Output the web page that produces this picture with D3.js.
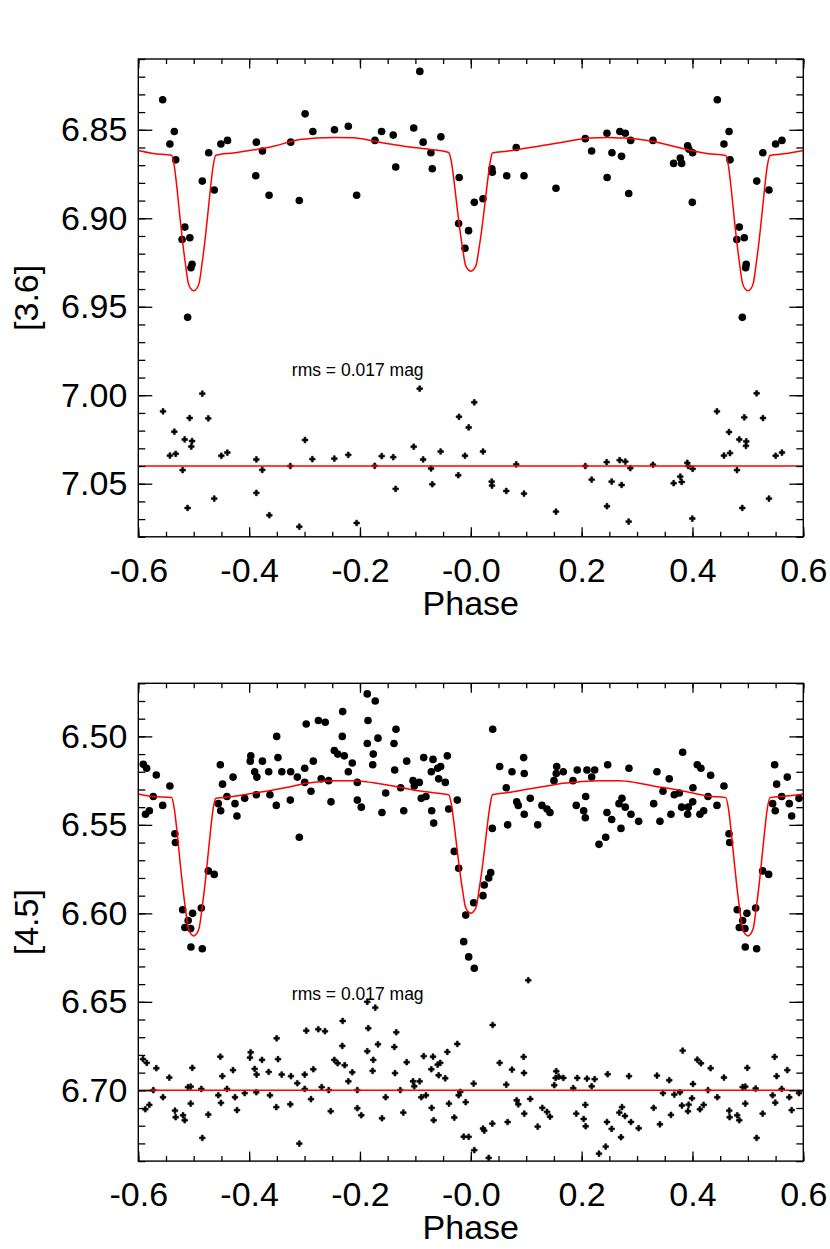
<!DOCTYPE html>
<html>
<head>
<meta charset="utf-8">
<script src="https://cdn.jsdelivr.net/npm/d3@7"></script>
<style>
  body { margin: 0; background: #fff; }
  svg text { font-family: "Liberation Sans", Arial, Helvetica, sans-serif; fill: #000; }
</style>
</head>
<body>
<div id="chart"></div>
<script>
// ---- data ----
const phaseTicks = [-0.6, -0.4, -0.2, 0.0, 0.2, 0.4, 0.6];
const phaseTickLabels = ["-0.6", "-0.4", "-0.2", "-0.0", "0.2", "0.4", "0.6"];
const phaseMinor = d3.range(-0.6, 0.6001, 0.05);

const magTicksTop = [6.85, 6.90, 6.95, 7.00, 7.05];
const magTicksBot = [6.50, 6.55, 6.60, 6.65, 6.70];

const domainTop = [6.81, 7.08];
const domainBot = [6.47, 6.74];

const bandLabels = ["[3.6]", "[4.5]"];
const rmsLabels = ["rms = 0.017 mag", "rms = 0.017 mag"];
const rmsPos = [[-0.323, 6.989], [-0.323, 6.649]];
const residualLevel = [7.04, 6.70];

// [3.6] observed magnitudes (phase, mag)
const obsTop = [
  [-0.556,6.833],[-0.543,6.858],[-0.535,6.851],[-0.5325,6.867],[-0.516,6.905],[-0.521,6.912],
  [-0.507,6.911],[-0.503,6.926],[-0.505,6.928],[-0.511,6.956],[-0.4845,6.879],[-0.473,6.863],
  [-0.463,6.884],[-0.451,6.858],[-0.439,6.856],[-0.387,6.857],[-0.388,6.876],[-0.376,6.862],
  [-0.364,6.887],[-0.325,6.857],[-0.3095,6.890],[-0.299,6.841],[-0.285,6.851],[-0.246,6.850],
  [-0.221,6.848],[-0.206,6.887],[-0.173,6.856],[-0.161,6.851],[-0.140,6.853],[-0.1355,6.871],
  [-0.103,6.849],[-0.092,6.817],[-0.086,6.857],[-0.072,6.863],[-0.0695,6.872],[-0.054,6.854],
  [-0.021,6.877],[-0.022,6.903],[-0.004,6.907],[-0.0105,6.917],[0.0063,6.891],[0.022,6.889],
  [0.038,6.872],[0.0388,6.874],[0.0648,6.876],[0.082,6.860],[0.096,6.876],[0.1537,6.883],
  [0.2066,6.855],[0.218,6.862],[0.2457,6.852],[0.246,6.877],[0.2547,6.863],[0.269,6.851],
  [0.2788,6.852],[0.272,6.865],[0.2885,6.856],[0.285,6.886],[0.3287,6.856],[0.366,6.869],
  [0.378,6.866],[0.3805,6.869],[0.3913,6.859],[0.3937,6.861],[0.4003,6.863],[0.3997,6.891],
  [0.4448,6.833],[0.4568,6.858],[0.466,6.851],[0.4677,6.867],[0.4845,6.905],[0.480,6.912],
  [0.4935,6.911],[0.497,6.926],[0.496,6.928],[0.490,6.956],[0.516,6.879],[0.527,6.863],
  [0.538,6.884],[0.550,6.858],[0.5615,6.856]
];

// [3.6] residuals, offset to 7.04
const resTop = [
  [-0.5554,7.0091],[-0.543,7.0341],[-0.535,7.0206],[-0.5325,7.0331],[-0.520,7.0423],[-0.5163,7.025],
  [-0.511,7.0637],[-0.5073,7.0129],[-0.503,7.0259],[-0.5044,7.029],[-0.4845,6.9991],[-0.4737,7.0131],
  [-0.463,7.0584],[-0.4502,7.0342],[-0.4394,7.0324],[-0.387,7.0363],[-0.387,7.0552],[-0.3763,7.0422],
  [-0.3636,7.0678],[-0.3257,7.040],[-0.3095,7.0743],[-0.2992,7.0253],[-0.286,7.0361],[-0.2463,7.0358],
  [-0.2211,7.0337],[-0.206,7.0722],[-0.1734,7.0399],[-0.1608,7.0344],[-0.140,7.035],[-0.1356,7.0529],
  [-0.103,7.0291],[-0.0922,6.9963],[-0.086,7.0363],[-0.0717,7.0414],[-0.0695,7.0503],[-0.0544,7.0318],
  [-0.0213,7.0122],[-0.0226,7.0452],[-0.0038,7.0182],[-0.0105,7.0342],[0.0063,7.004],[0.022,7.0318],
  [0.0377,7.0488],[0.0382,7.0511],[0.064,7.0541],[0.082,7.0391],[0.096,7.0556],[0.1537,7.0658],
  [0.2066,7.040],[0.2181,7.0477],[0.2452,7.0378],[0.2457,7.0627],[0.2542,7.0488],[0.2686,7.0367],
  [0.2788,7.0375],[0.2722,7.0507],[0.2878,7.0412],[0.2849,7.0714],[0.3287,7.0393],[0.3661,7.0497],
  [0.378,7.046],[0.3805,7.049],[0.3906,7.0382],[0.3924,7.040],[0.4003,7.0416],[0.3997,7.0697],
  [0.4442,7.0091],[0.4568,7.0341],[0.4659,7.0208],[0.4677,7.0327],[0.4803,7.0423],[0.4845,7.025],
  [0.4899,7.0637],[0.4935,7.0125],[0.4971,7.0261],[0.4965,7.0286],[0.5158,6.9989],[0.5272,7.0129],
  [0.538,7.0584],[0.5501,7.0342],[0.5615,7.0324]
];

// [3.6] model light curve
const modelTop = [
  [-0.600,6.8617],[-0.573,6.8634],[-0.540,6.8644],
  [-0.535,6.8705],[-0.530,6.8836],[-0.525,6.8989],[-0.520,6.9134],[-0.515,6.9257],[-0.510,6.9364],
  [-0.505,6.9399],[-0.500,6.9410],[-0.495,6.9399],[-0.490,6.9364],[-0.485,6.9257],[-0.480,6.9134],
  [-0.475,6.8989],[-0.470,6.8836],[-0.465,6.8705],[-0.460,6.8644],
  [-0.429,6.8631],[-0.386,6.8611],[-0.356,6.8593],[-0.326,6.8568],[-0.308,6.8555],[-0.248,6.8543],
  [-0.212,6.8545],[-0.176,6.8563],[-0.152,6.8578],[-0.110,6.8597],[-0.074,6.8611],[-0.040,6.8628],
  [-0.035,6.8682],[-0.030,6.8796],[-0.025,6.8930],[-0.020,6.9058],[-0.015,6.9166],[-0.010,6.9260],
  [-0.005,6.9290],[0.000,6.9300],[0.005,6.9290],[0.010,6.9260],[0.015,6.9166],[0.020,6.9058],
  [0.025,6.8930],[0.030,6.8796],[0.035,6.8682],[0.039,6.8631],
  [0.065,6.8621],[0.095,6.8606],[0.125,6.8591],[0.155,6.8576],[0.185,6.8559],[0.216,6.8547],
  [0.246,6.8543],[0.276,6.8547],[0.306,6.8555],[0.336,6.8570],[0.366,6.8593],[0.396,6.8615],
  [0.426,6.8634],[0.460,6.8645],
  [0.465,6.8705],[0.470,6.8836],[0.475,6.8989],[0.480,6.9134],[0.485,6.9257],[0.490,6.9364],
  [0.495,6.9399],[0.500,6.9410],[0.505,6.9399],[0.510,6.9364],[0.515,6.9257],[0.520,6.9134],
  [0.525,6.8989],[0.530,6.8836],[0.535,6.8705],[0.540,6.8645],[0.570,6.8634],[0.600,6.8617]
];

// [4.5] observed magnitudes
const obsBot = [
  [-0.591,6.5158],[-0.585,6.518],[-0.587,6.544],[-0.580,6.542],[-0.573,6.534],[-0.5675,6.5218],
  [-0.556,6.539],[-0.543,6.528],[-0.534,6.555],[-0.533,6.560],[-0.520,6.598],[-0.516,6.608],
  [-0.510,6.604],[-0.5055,6.6086],[-0.502,6.600],[-0.505,6.619],[-0.4845,6.620],[-0.4863,6.597],
  [-0.4737,6.576],[-0.463,6.578],[-0.4556,6.538],[-0.4513,6.542],[-0.448,6.527],[-0.452,6.516],
  [-0.440,6.534],[-0.429,6.523],[-0.4255,6.538],[-0.422,6.545],[-0.408,6.535],[-0.398,6.514],
  [-0.397,6.511],[-0.390,6.520],[-0.386,6.523],[-0.387,6.533],[-0.376,6.514],[-0.3647,6.520],
  [-0.3624,6.533],[-0.3503,6.500],[-0.348,6.512],[-0.351,6.539],[-0.341,6.520],[-0.325,6.520],
  [-0.3257,6.536],[-0.313,6.523],[-0.3095,6.557],[-0.2997,6.518],[-0.2997,6.526],[-0.297,6.493],
  [-0.2884,6.531],[-0.2842,6.514],[-0.275,6.491],[-0.2626,6.492],[-0.270,6.524],[-0.2564,6.525],
  [-0.2523,6.537],[-0.2463,6.508],[-0.2402,6.510],[-0.2312,6.486],[-0.2319,6.500],[-0.2283,6.511],
  [-0.221,6.520],[-0.2139,6.515],[-0.2048,6.526],[-0.2048,6.536],[-0.1976,6.540],[-0.1868,6.476],
  [-0.1855,6.491],[-0.1868,6.504],[-0.1724,6.480],[-0.176,6.510],[-0.177,6.516],[-0.1675,6.501],
  [-0.1603,6.543],[-0.1536,6.532],[-0.1386,6.504],[-0.135,6.496],[-0.1374,6.519],[-0.1265,6.529],
  [-0.121,6.542],[-0.1157,6.514],[-0.1043,6.525],[-0.102,6.528],[-0.093,6.526],[-0.0894,6.535],
  [-0.0809,6.534],[-0.085,6.512],[-0.0706,6.542],[-0.067,6.549],[-0.0713,6.520],[-0.0682,6.513],
  [-0.0598,6.518],[-0.0544,6.517],[-0.058,6.524],[-0.046,6.526],[-0.0424,6.511],[-0.0399,6.541],
  [-0.0298,6.565],[-0.0219,6.5745],[-0.0244,6.536],
  [-0.0092,6.601],[-0.0128,6.616],[-0.0038,6.6246],[0.0063,6.631],[0.0052,6.594],[0.022,6.590],
  [0.0243,6.584],[0.0323,6.580],[0.0359,6.577],[0.0388,6.552],[0.0395,6.496],[0.0521,6.517],
  [0.064,6.529],[0.0665,6.550],[0.0743,6.520],[0.0828,6.537],[0.0857,6.539],[0.0954,6.512],
  [0.0965,6.521],[0.0965,6.544],[0.1073,6.535],[0.1207,6.550],[0.1284,6.539],[0.1375,6.541],
  [0.1429,6.543],[0.1501,6.525],[0.155,6.517],[0.1542,6.521],[0.1669,6.520],[0.1844,6.525],
  [0.1903,6.539],[0.1921,6.519],[0.2037,6.542],[0.2066,6.546],[0.2073,6.534],[0.2096,6.519],
  [0.2181,6.523],[0.2235,6.519],[0.2313,6.561],[0.2434,6.557],[0.2457,6.543],[0.247,6.516],
  [0.2542,6.547],[0.2674,6.538],[0.271,6.552],[0.2728,6.535],[0.2787,6.540],[0.2854,6.518],
  [0.289,6.544],[0.3029,6.548],[0.330,6.538],[0.3359,6.520],[0.3413,6.548],[0.3468,6.531],
  [0.3581,6.524],[0.3612,6.544],[0.3672,6.533],[0.3762,6.532],[0.3823,6.509],[0.3805,6.540],
  [0.3913,6.544],[0.3924,6.540],[0.4004,6.537],[0.4009,6.529],[0.4087,6.516],[0.4153,6.518],
  [0.4135,6.544],[0.4202,6.542],[0.428,6.534],[0.4328,6.522],[0.4442,6.539],[0.4568,6.528],
  [0.4659,6.555],[0.4671,6.560],[0.4808,6.598],[0.4845,6.608],[0.4906,6.604],[0.4947,6.6086],
  [0.4983,6.600],[0.4953,6.619],[0.5158,6.620],[0.514,6.597],[0.5267,6.576],[0.5375,6.578],
  [0.5447,6.538],[0.5494,6.542],[0.5519,6.527],[0.5483,6.516],[0.561,6.534],[0.5711,6.523],
  [0.5747,6.538],[0.579,6.545],[0.5922,6.535]
];

// [4.5] residuals, offset to 6.70
const resBot = [
  [-0.5915,6.6824],[-0.5848,6.6845],[-0.5874,6.7107],[-0.5801,6.7082],[-0.5729,6.6999],[-0.5675,6.6875],
  [-0.5554,6.7039],[-0.5441,6.6928],[-0.5338,6.7115],[-0.5325,6.7152],[-0.5193,6.7141],[-0.5163,6.7169],
  [-0.5103,6.6982],[-0.5054,6.6979],[-0.5054,6.7075],[-0.5026,6.6873],[-0.4863,6.6992],[-0.4845,6.7269],
  [-0.4737,6.7137],[-0.4556,6.7028],[-0.4508,6.7071],[-0.4484,6.692],[-0.452,6.681],[-0.440,6.6992],
  [-0.4291,6.6886],[-0.4255,6.7039],[-0.4219,6.7112],[-0.408,6.7016],[-0.3984,6.6815],[-0.3972,6.6785],
  [-0.390,6.6879],[-0.3864,6.6911],[-0.3871,6.7011],[-0.3768,6.6828],[-0.3647,6.6896],[-0.3624,6.7028],
  [-0.3503,6.6706],[-0.3479,6.6824],[-0.351,6.7095],[-0.3412,6.6911],[-0.3245,6.692],[-0.3257,6.7079],
  [-0.3131,6.696],[-0.3095,6.7301],[-0.2997,6.6911],[-0.2997,6.6992],[-0.2969,6.6663],[-0.2884,6.705],
  [-0.2842,6.6881],[-0.2752,6.6655],[-0.2631,6.6666],[-0.2691,6.6982],[-0.2564,6.6999],[-0.2528,6.7118],
  [-0.2463,6.6828],[-0.2402,6.6847],[-0.2312,6.6608],[-0.2319,6.6749],[-0.2276,6.6858],[-0.221,6.6949],
  [-0.2139,6.6898],[-0.2048,6.6999],[-0.2048,6.7101],[-0.1976,6.7141],[-0.1868,6.650],[-0.185,6.6649],
  [-0.1868,6.6779],[-0.1724,6.6533],[-0.176,6.6828],[-0.1771,6.689],[-0.1675,6.674],[-0.1603,6.7158],
  [-0.1536,6.7039],[-0.138,6.6755],[-0.1345,6.6672],[-0.1368,6.6903],[-0.1272,6.6999],[-0.1218,6.7126],
  [-0.1157,6.6841],[-0.1043,6.6949],[-0.102,6.6977],[-0.0923,6.6949],[-0.0894,6.7039],[-0.0809,6.7028],
  [-0.085,6.6807],[-0.0706,6.7099],[-0.067,6.7169],[-0.0713,6.6881],[-0.0682,6.681],[-0.058,6.6915],
  [-0.0598,6.6855],[-0.0551,6.6845],[-0.0461,6.6932],[-0.0424,6.6783],[-0.0394,6.7075],[-0.0298,6.7154],
  [-0.0244,6.6738],[-0.0219,6.7028],[-0.019,6.7009],
  [-0.0092,6.7067],[-0.0128,6.7262],[-0.0038,6.7263],[0.0052,6.6962],[0.0063,6.7338],[0.022,6.7216],
  [0.0243,6.7228],[0.0323,6.7382],[0.0388,6.7188],[0.0395,6.6631],[0.0521,6.6845],[0.064,6.6968],
  [0.0665,6.7179],[0.0743,6.6883],[0.0828,6.7056],[0.0857,6.7079],[0.0954,6.6811],[0.096,6.6902],
  [0.0965,6.7132],[0.1037,6.6378],[0.1073,6.7049],[0.1207,6.7205],[0.129,6.7099],[0.1375,6.7122],
  [0.1429,6.7149],[0.1506,6.6971],[0.1542,6.6892],[0.1531,6.693],[0.1586,6.6923],[0.1669,6.693],
  [0.1849,6.6988],[0.1903,6.7132],[0.1921,6.693],[0.2037,6.7162],[0.2066,6.7082],[0.2073,6.7203],
  [0.2096,6.6934],[0.2181,6.6977],[0.2235,6.6937],[0.2313,6.7358],[0.2434,6.7318],[0.2457,6.7179],
  [0.247,6.6909],[0.2542,6.7218],[0.268,6.7126],[0.271,6.7265],[0.2728,6.7095],[0.2782,6.7145],
  [0.2854,6.692],[0.289,6.7179],[0.3029,6.7214],[0.330,6.7099],[0.3359,6.6917],[0.3413,6.7192],
  [0.3468,6.7016],[0.3581,6.6943],[0.3612,6.7139],[0.3672,6.7024],[0.3775,6.7011],[0.3823,6.6776],
  [0.381,6.7086],[0.3919,6.7118],[0.3931,6.7081],[0.3991,6.7045],[0.4009,6.6964],[0.4087,6.6827],
  [0.4153,6.6847],[0.4135,6.7107],[0.4202,6.7082],[0.428,6.6999],[0.4328,6.6875],[0.4448,6.7039],
  [0.4568,6.6928],[0.4664,6.7115],[0.4671,6.7152],[0.4808,6.7141],[0.4845,6.7169],[0.4906,6.6982],
  [0.4953,6.6979],[0.4953,6.7075],[0.4989,6.6873],[0.514,6.699],[0.5158,6.7269],[0.5267,6.7132],
  [0.5447,6.7028],[0.5494,6.707],[0.5519,6.692],[0.5483,6.6811],[0.561,6.6992],[0.5711,6.6886],
  [0.5747,6.7039],[0.579,6.7112],[0.5922,6.7016]
];

// [4.5] model light curve
const modelBot = [
  [-0.600,6.5325],[-0.573,6.5340],[-0.540,6.5346],
  [-0.535,6.5409],[-0.530,6.5542],[-0.525,6.5698],[-0.520,6.5846],[-0.515,6.5972],[-0.510,6.6081],
  [-0.505,6.6116],[-0.500,6.6128],[-0.495,6.6116],[-0.490,6.6081],[-0.485,6.5972],[-0.480,6.5846],
  [-0.475,6.5698],[-0.470,6.5542],[-0.465,6.5409],[-0.460,6.5350],
  [-0.429,6.5340],[-0.386,6.5318],[-0.356,6.5303],[-0.326,6.5284],[-0.296,6.5265],[-0.248,6.5250],
  [-0.212,6.5250],[-0.176,6.5262],[-0.140,6.5280],[-0.104,6.5303],[-0.068,6.5318],[-0.040,6.5330],
  [-0.035,6.5384],[-0.030,6.5498],[-0.025,6.5632],[-0.020,6.5759],[-0.015,6.5866],[-0.010,6.5960],
  [-0.005,6.5990],[0.000,6.6000],[0.005,6.5990],[0.010,6.5960],[0.015,6.5866],[0.020,6.5759],
  [0.025,6.5632],[0.030,6.5498],[0.035,6.5384],[0.039,6.5330],
  [0.065,6.5318],[0.101,6.5299],[0.137,6.5280],[0.167,6.5265],[0.197,6.5256],[0.233,6.5250],
  [0.269,6.5250],[0.299,6.5262],[0.329,6.5280],[0.366,6.5299],[0.402,6.5321],[0.426,6.5337],
  [0.460,6.5346],
  [0.465,6.5409],[0.470,6.5542],[0.475,6.5698],[0.480,6.5846],[0.485,6.5972],[0.490,6.6081],
  [0.495,6.6116],[0.500,6.6128],[0.505,6.6116],[0.510,6.6081],[0.515,6.5972],[0.520,6.5846],
  [0.525,6.5698],[0.530,6.5542],[0.535,6.5409],[0.540,6.5346],[0.570,6.5337],[0.600,6.5325]
];

// ---- layout ----
const W = 830, H = 1249;
const plotLeft = 138.3, plotW = 665, plotH = 477.8;
const panelTops = [59, 683.3];
const fontMain = 34;

const svg = d3.select("#chart").append("svg")
  .attr("width", W)
  .attr("height", H);

const x = d3.scaleLinear().domain([-0.6, 0.6]).range([0, plotW]);

const panels = [
  { obs: obsTop, res: resTop, model: modelTop, domain: domainTop, ticks: magTicksTop },
  { obs: obsBot, res: resBot, model: modelBot, domain: domainBot, ticks: magTicksBot }
];

panels.forEach((p, i) => {
  const g = svg.append("g").attr("transform", `translate(${plotLeft},${panelTops[i]})`);
  const y = d3.scaleLinear().domain(p.domain).range([0, plotH]);
  const minorY = d3.range(Math.round(p.domain[0] * 100), Math.round(p.domain[1] * 100) + 1).map(v => v / 100);

  g.append("clipPath").attr("id", "clip" + i)
    .append("rect").attr("width", plotW).attr("height", plotH);

  const inner = g.append("g").attr("clip-path", `url(#clip${i})`);

  // observed points
  inner.append("g").selectAll("circle")
    .data(p.obs)
    .enter().append("circle")
    .attr("cx", d => x(d[0]))
    .attr("cy", d => y(d[1]))
    .attr("r", 3.8)
    .style("fill", "#000");

  // residuals (small chunky plus)
  const cross = d3.symbol().type(d3.symbolCross).size(18);
  inner.append("g").selectAll("path")
    .data(p.res)
    .enter().append("path")
    .attr("d", cross)
    .attr("transform", d => `translate(${x(d[0])},${y(d[1])})`)
    .style("fill", "#000")
    .style("stroke", "#000")
    .style("stroke-width", 0.6)
    .style("stroke-linejoin", "round");

  // model curve
  const line = d3.line()
    .x(d => x(d[0]))
    .y(d => y(d[1]))
    .curve(d3.curveMonotoneX);
  inner.append("path")
    .datum(p.model)
    .attr("d", line)
    .style("fill", "none")
    .style("stroke", "#ff0000")
    .style("stroke-width", 1.5);

  // residual zero line
  inner.append("line")
    .attr("x1", 0).attr("x2", plotW)
    .attr("y1", y(residualLevel[i])).attr("y2", y(residualLevel[i]))
    .style("stroke", "#ff0000")
    .style("stroke-width", 1.6);

  // rms text
  g.append("text")
    .attr("x", x(rmsPos[i][0]))
    .attr("y", y(rmsPos[i][1]))
    .style("font-size", "17.5px")
    .text(rmsLabels[i]);

  // axes: major + minor, ticks inward, mirrored
  const fmtX = d => phaseTickLabels[phaseTicks.findIndex(t => Math.abs(t - d) < 1e-9)];
  g.append("g").attr("class", "ax")
    .attr("transform", `translate(0,${plotH})`)
    .call(d3.axisBottom(x).tickValues(phaseTicks).tickFormat(fmtX)
      .tickSizeInner(-9.5).tickSizeOuter(0).tickPadding(21));
  g.append("g").attr("class", "ax")
    .attr("transform", `translate(0,${plotH})`)
    .call(d3.axisBottom(x).tickValues(phaseMinor).tickFormat("")
      .tickSizeInner(-5).tickSizeOuter(0));
  g.append("g").attr("class", "ax")
    .call(d3.axisTop(x).tickValues(phaseTicks).tickFormat("")
      .tickSizeInner(-9.5).tickSizeOuter(0));
  g.append("g").attr("class", "ax")
    .call(d3.axisTop(x).tickValues(phaseMinor).tickFormat("")
      .tickSizeInner(-5).tickSizeOuter(0));

  g.append("g").attr("class", "ax")
    .call(d3.axisLeft(y).tickValues(p.ticks).tickFormat(d3.format(".2f"))
      .tickSizeInner(-14).tickSizeOuter(0).tickPadding(11));
  g.append("g").attr("class", "ax")
    .call(d3.axisLeft(y).tickValues(minorY).tickFormat("")
      .tickSizeInner(-7).tickSizeOuter(0));
  g.append("g").attr("class", "ax")
    .attr("transform", `translate(${plotW},0)`)
    .call(d3.axisRight(y).tickValues(p.ticks).tickFormat("")
      .tickSizeInner(-14).tickSizeOuter(0));
  g.append("g").attr("class", "ax")
    .attr("transform", `translate(${plotW},0)`)
    .call(d3.axisRight(y).tickValues(minorY).tickFormat("")
      .tickSizeInner(-7).tickSizeOuter(0));

  g.selectAll(".ax .domain").remove();
  g.selectAll(".ax line").style("stroke", "#000").style("stroke-width", 1.3);
  g.selectAll(".ax text")
    .style("font-size", fontMain + "px")
    .style("font-family", '"Liberation Sans", Arial, Helvetica, sans-serif')
    .attr("fill", "#000");

  // frame
  g.append("rect")
    .attr("width", plotW).attr("height", plotH)
    .style("fill", "none")
    .style("stroke", "#000")
    .style("stroke-width", 1.4);

  // axis titles
  g.append("text")
    .attr("x", plotW / 2)
    .attr("y", plotH + 78)
    .attr("text-anchor", "middle")
    .style("font-size", fontMain + "px")
    .text("Phase");

  g.append("text")
    .attr("transform", `translate(${38 - plotLeft},${plotH / 2}) rotate(-90)`)
    .attr("text-anchor", "middle")
    .style("font-size", fontMain + "px")
    .text(bandLabels[i]);
});
</script>
</body>
</html>
